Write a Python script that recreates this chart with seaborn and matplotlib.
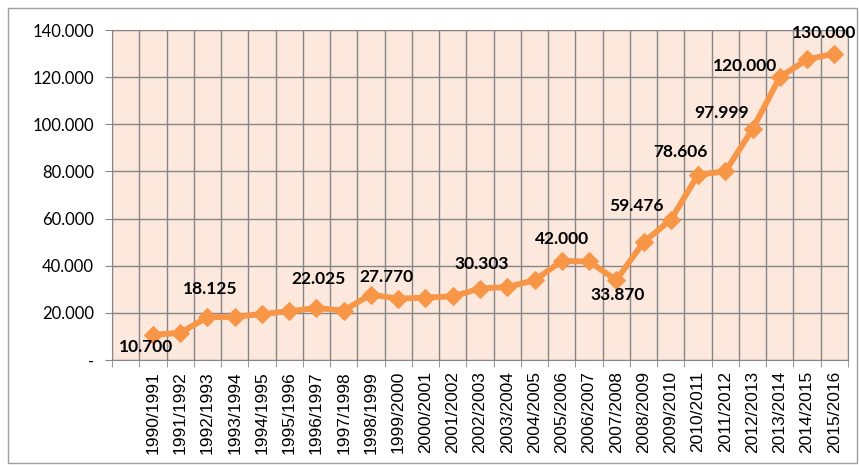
import numpy as np
import pandas as pd
import matplotlib
matplotlib.use("Agg")
import matplotlib.pyplot as plt
import seaborn as sns
from matplotlib.patches import Rectangle
from matplotlib.ticker import FuncFormatter, MultipleLocator

# ----------------------------
# Dados
# ----------------------------
safras = [
    "1990/1991", "1991/1992", "1992/1993", "1993/1994", "1994/1995", "1995/1996",
    "1996/1997", "1997/1998", "1998/1999", "1999/2000", "2000/2001", "2001/2002",
    "2002/2003", "2003/2004", "2004/2005", "2005/2006", "2006/2007", "2007/2008",
    "2008/2009", "2009/2010", "2010/2011", "2011/2012", "2012/2013", "2013/2014",
    "2014/2015", "2015/2016",
]
valores = [
    10700, 11500, 18125, 18300, 19500, 20700,
    22025, 21000, 27770, 26000, 26500, 27000,
    30303, 31000, 33800, 42000, 41800, 33870,
    50000, 59476, 78606, 80000, 97999, 120000,
    127500, 130000,
]
# safras com rotulo de valor
rotulados = ["1990/1991", "1992/1993", "1996/1997", "1998/1999", "2002/2003",
             "2005/2006", "2007/2008", "2009/2010", "2010/2011", "2012/2013",
             "2013/2014", "2015/2016"]
# deslocamento dos rotulos (pixels)
offsets = [(-7, -12), (3, 28), (2, 29), (15, 18), (2, 25), (0, 22), (1, -15),
           (-34, 14), (-18, 23), (-31, 16), (-35, 11), (-10, 21)]

df = pd.DataFrame({"safra": safras, "valor": valores})
df["pos"] = np.arange(len(df))

# ----------------------------
# Grafico
# ----------------------------
laranja = "#F79646"
fig = plt.figure(figsize=(8.59, 4.65), dpi=100)
ax = fig.add_axes([112 / 859, 1 - 360 / 465, (848 - 112) / 859, (360 - 30) / 465])
ax.set_facecolor("#FCE8DD")

sns.lineplot(data=df, x="pos", y="valor", ax=ax, color=laranja, linewidth=4.2,
             marker="D", markersize=9.5, markeredgecolor=laranja, zorder=3)

ax.set_xlim(-1.5, len(df) - 0.5)
ax.set_ylim(0, 140000)
ax.set_xticks(df["pos"])
ax.set_xticklabels(df["safra"], rotation=90, fontsize=12.5, family="Liberation Sans")
ax.xaxis.set_minor_locator(MultipleLocator(1, offset=0.5))
ax.tick_params(axis="x", which="major", length=0, pad=8)
ax.tick_params(axis="x", which="minor", length=5, color="#868686")
ax.yaxis.set_major_locator(MultipleLocator(20000))
ax.yaxis.set_major_formatter(FuncFormatter(
    lambda v, p: "-" if v == 0 else f"{v:,.0f}".replace(",", ".")))
ax.tick_params(axis="y", length=5, color="#868686", labelsize=12, pad=8)
for lab in ax.get_yticklabels():
    lab.set_family("Lato")

ax.grid(True, axis="y", color="#868686", linewidth=1)
ax.grid(True, axis="x", which="minor", color="#868686", linewidth=1)
ax.set_axisbelow(True)
for s in ax.spines.values():
    s.set_color("#868686")
ax.set_xlabel("")
ax.set_ylabel("")

for (safra, (dx, dy)) in zip(rotulados, offsets):
    linha = df[df["safra"] == safra].iloc[0]
    ax.annotate(f"{linha['valor']:,.0f}".replace(",", "."),
                (linha["pos"], linha["valor"]), xytext=(dx, dy),
                textcoords="offset pixels", ha="center", va="center",
                fontsize=12.5, fontweight="bold", family="Lato", color="black",
                zorder=4)

# moldura externa
fig.patches.append(Rectangle((8 / 859, 2 / 465), 849 / 859, 455 / 465,
                             transform=fig.transFigure, fill=False,
                             edgecolor="#A0A0A0", linewidth=1))

fig.savefig("out.png", dpi=100)
